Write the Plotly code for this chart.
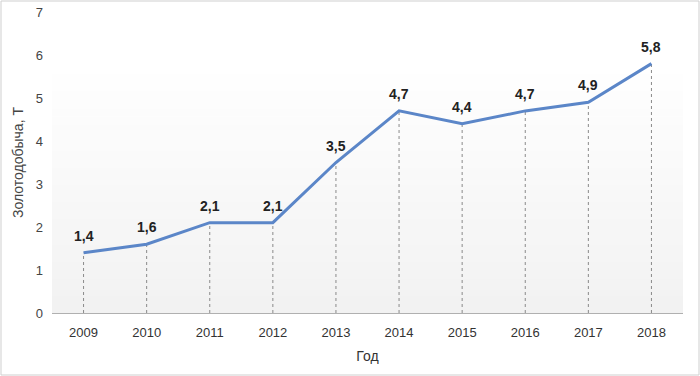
import plotly.graph_objects as go

years = ["2009", "2010", "2011", "2012", "2013", "2014", "2015", "2016", "2017", "2018"]
values = [1.4, 1.6, 2.1, 2.1, 3.5, 4.7, 4.4, 4.7, 4.9, 5.8]
labels = [f"{v:.1f}".replace(".", ",") for v in values]
xpos = list(range(len(years)))

FONT = "Liberation Sans Narrow, Arial Narrow, Liberation Sans, Arial, sans-serif"

fig = go.Figure()
fig.add_trace(go.Scatter(
    x=xpos, y=values, mode="lines",
    line=dict(color="#5B86C8", width=3),
    hoverinfo="y", showlegend=False,
))

shapes = []
# soft vertical background gradient (decorative)
nb = 30
for i in range(nb):
    g = int(round(242 + (255 - 242) * i / (nb - 1)))
    shapes.append(dict(type="rect", xref="paper", yref="paper",
                       x0=0, x1=1, y0=i * 0.85 / nb, y1=(i + 1) * 0.85 / nb + 0.002,
                       line=dict(width=0), fillcolor=f"rgb({g},{g},{g})", layer="below"))
for xp, v in zip(xpos, values):
    shapes.append(dict(type="line", xref="x", yref="y", x0=xp, x1=xp, y0=0, y1=v,
                       line=dict(color="#8a8a8a", width=1, dash="dot"), layer="below"))
# outer frame
shapes.append(dict(type="rect", xref="paper", yref="paper",
                   x0=(1 - 52) / 631, x1=(699 - 52) / 631,
                   y0=-(375 - 313) / 301, y1=(313 - 1) / 301,
                   line=dict(color="#cfcfcf", width=1), fillcolor="rgba(0,0,0,0)", layer="below"))

annotations = []
for xp, v, t in zip(xpos, values, labels):
    annotations.append(dict(x=xp, y=v, xref="x", yref="y", text=f"<b>{t}</b>",
                            showarrow=False, yshift=17,
                            font=dict(family=FONT, size=14, color="#222222")))

fig.update_layout(
    width=700, height=376,
    margin=dict(l=52, r=17, t=12, b=63, autoexpand=False),
    paper_bgcolor="white",
    plot_bgcolor="white",
    font=dict(family=FONT, size=13, color="#444444"),
    shapes=shapes,
    annotations=annotations,
    xaxis=dict(
        range=[-0.5, len(years) - 0.5], tickvals=xpos, ticktext=years,
        showgrid=False, zeroline=False, automargin=False,
        showline=True, linecolor="#b0b0b0", linewidth=1,
        ticks="", ticklabelstandoff=7, tickfont=dict(size=13, color="#333333"),
        title=dict(text="Год", font=dict(size=14, color="#333333"), standoff=12),
    ),
    yaxis=dict(
        range=[0, 7], dtick=1, showgrid=False, zeroline=False, showline=False,
        automargin=False, ticklabelstandoff=8,
        ticks="", tickfont=dict(size=13, color="#444444"),
        title=dict(text="Золотодобыча, Т", font=dict(size=14, color="#444444"), standoff=8),
    ),
)

fig.write_html("out.html", config={"displayModeBar": False},
               post_script="document.body.style.margin='0';")
